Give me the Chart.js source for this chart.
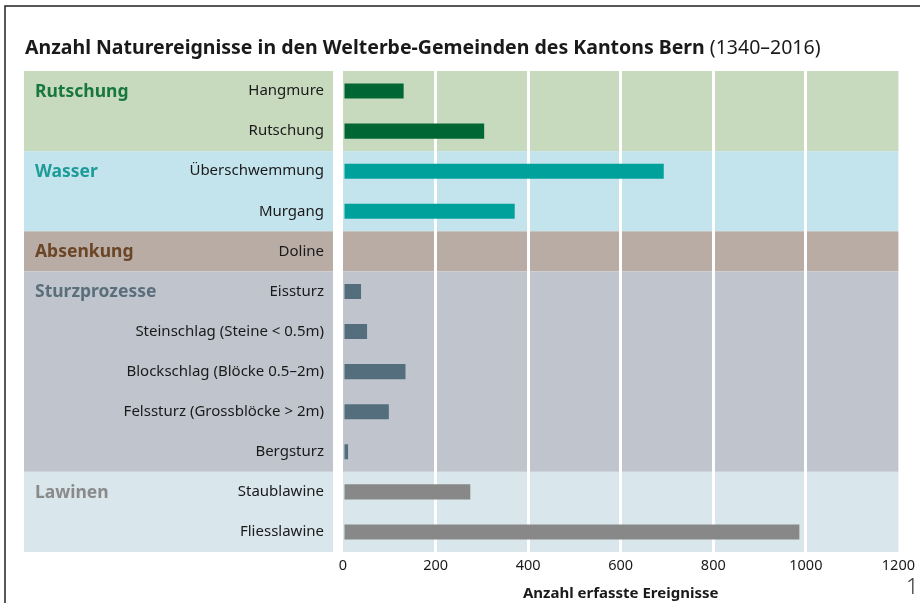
<!DOCTYPE html>
<html>
<head>
<meta charset="utf-8">
<script src="https://cdn.jsdelivr.net/npm/chart.js@4.4.1/dist/chart.umd.min.js"></script>
<style>
  html, body { margin: 0; background: #fff; }
  #wrap { width: 920px; height: 603px; position: relative; }
</style>
</head>
<body>
<div id="wrap"><canvas id="chart" width="920" height="603"></canvas></div>
<script>
// Ereignisse je Prozess
const categories = [
  "Hangmure", "Rutschung",
  "Überschwemmung", "Murgang",
  "Doline",
  "Eissturz", "Steinschlag (Steine < 0.5m)", "Blockschlag (Blöcke 0.5–2m)",
  "Felssturz (Grossblöcke > 2m)", "Bergsturz",
  "Staublawine", "Fliesslawine"
];
const counts = [131, 305, 693, 371, 0, 39, 52, 135, 99, 11, 275, 986];

// Prozessgruppen und wie viele Zeilen sie umfassen
const groups = ["Rutschung", "Wasser", "Absenkung", "Sturzprozesse", "Lawinen"];
const groupSizes = [2, 2, 1, 5, 2];
const groupBand = ["#c8dabe", "#c4e4ed", "#b9aca4", "#c0c5cd", "#d9e6eb"];
const groupBar = ["#006633", "#00a19a", "#7a5a3a", "#546e7d", "#888888"];
const groupText = ["#17773c", "#1b9c98", "#6a4526", "#5b6e7b", "#8a8a8a"];

const xTicks = [0, 200, 400, 600, 800, 1000, 1200];

const FONT = "'Noto Sans', sans-serif";

// Gruppe je Zeile
const rowGroup = [];
groupSizes.forEach((n, g) => { for (let i = 0; i < n; i++) rowGroup.push(g); });

const bandPlugin = {
  id: "bands",
  beforeDraw(chart) {
    const { ctx, scales: { x, y } } = chart;
    const rowH = y.getPixelForValue(1) - y.getPixelForValue(0);
    let start = 0;
    ctx.save();
    groupSizes.forEach((n, g) => {
      const top = y.getPixelForValue(start) - rowH / 2;
      const bottom = y.getPixelForValue(start + n - 1) + rowH / 2;
      ctx.fillStyle = groupBand[g];
      ctx.fillRect(24, top, 333 - 24, bottom - top);
      ctx.fillRect(x.getPixelForValue(xTicks[0]), top,
        x.getPixelForValue(xTicks[xTicks.length - 1]) - x.getPixelForValue(xTicks[0]), bottom - top);
      ctx.fillStyle = groupText[g];
      ctx.font = "bold 17.5px " + FONT;
      ctx.textBaseline = "middle";
      ctx.textAlign = "left";
      ctx.fillText(groups[g], 35, y.getPixelForValue(start) + 1);
      start += n;
    });
    ctx.restore();
  },
  afterDraw(chart) {
    const { ctx } = chart;
    ctx.save();
    // Rahmen
    ctx.strokeStyle = "#222";
    ctx.lineWidth = 1.5;
    ctx.beginPath();
    ctx.moveTo(5, 603);
    ctx.lineTo(5, 6);
    ctx.lineTo(920, 6);
    ctx.stroke();
    // Titel
    ctx.fillStyle = "#1a1a1a";
    ctx.textBaseline = "alphabetic";
    ctx.textAlign = "left";
    const head = "Anzahl Naturereignisse in den Welterbe-Gemeinden des Kantons Bern";
    ctx.font = "bold 19.5px " + FONT;
    ctx.fillText(head, 25, 54);
    const w = ctx.measureText(head).width;
    ctx.font = "19.5px " + FONT;
    ctx.fillText(" (1340–2016)", 25 + w, 54);
    // Seitenzahl
    ctx.font = "300 22px " + FONT;
    ctx.fillStyle = "#333";
    ctx.fillText("1", 906, 594);
    ctx.restore();
  }
};

new Chart(document.getElementById("chart"), {
  type: "bar",
  data: {
    labels: categories,
    datasets: [{
      data: counts,
      backgroundColor: rowGroup.map(g => groupBar[g]),
      barPercentage: 1,
      categoryPercentage: 0.375,
      borderWidth: 0
    }]
  },
  options: {
    indexAxis: "y",
    responsive: false,
    animation: false,
    devicePixelRatio: 1,
    layout: { padding: { top: 71, right: 15, bottom: 0, left: 0 } },
    plugins: {
      legend: { display: false },
      tooltip: { enabled: false }
    },
    scales: {
      y: {
        afterFit(scale) { scale.width = 343; },
        grid: { display: false, drawTicks: false },
        border: { display: false },
        ticks: { color: "#1a1a1a", font: { family: FONT, size: 15 }, padding: 19 }
      },
      x: {
        min: xTicks[0],
        max: xTicks[xTicks.length - 1],
        afterFit(scale) { scale.height = 51; },
        afterBuildTicks(scale) { scale.ticks = xTicks.map(v => ({ value: v })); },
        grid: {
          drawTicks: false,
          lineWidth: 3,
          color: c => (c.tick && c.tick.value > xTicks[0] && c.tick.value < xTicks[xTicks.length - 1]) ? "#ffffff" : "rgba(0,0,0,0)"
        },
        border: { display: false },
        ticks: {
          color: "#1a1a1a",
          font: { family: FONT, size: 14.5 },
          padding: 5,
          callback: v => String(v)
        },
        title: {
          display: true,
          text: "Anzahl erfasste Ereignisse",
          color: "#1a1a1a",
          font: { family: FONT, size: 15, weight: "bold" },
          padding: { top: 2, bottom: 0 }
        }
      }
    }
  },
  plugins: [bandPlugin]
});
</script>
</body>
</html>
